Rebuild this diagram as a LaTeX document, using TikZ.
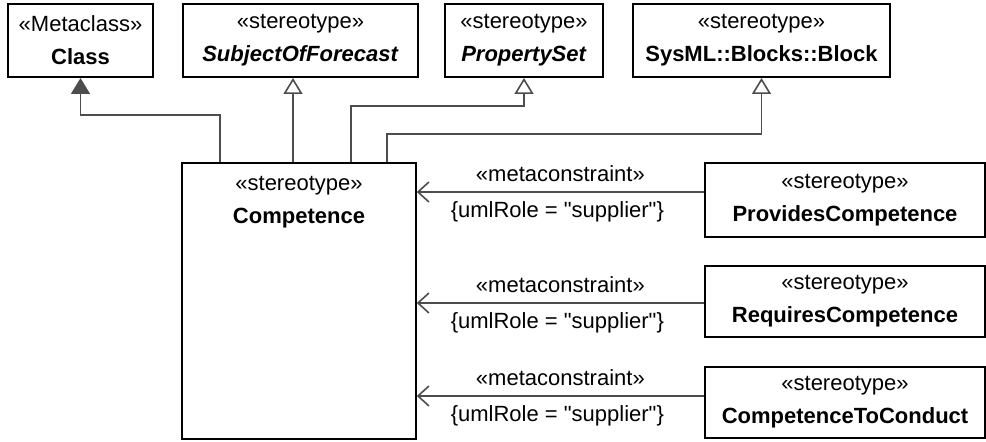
\documentclass[tikz,border=0pt]{standalone}
\usepackage{fontspec}
\setmainfont{Liberation Sans}
\usepackage{tikz}
\usetikzlibrary{arrows.meta, positioning}
\definecolor{edge}{HTML}{4D4D4D}

\begin{document}
\begin{tikzpicture}[
  x=0.5pt, y=-0.5pt,
  font=\fontsize{11}{16.5}\selectfont,
  stereo/.style={draw=black, fill=white, line width=1pt, align=center, inner sep=0pt, minimum height=36.5pt},
  gen/.style={-{Triangle[open, length=8pt, width=9.5pt]}, line width=0.8pt, draw=edge},
  genfill/.style={-{Triangle[length=8pt, width=9.5pt, fill=edge]}, line width=0.8pt, draw=edge},
  meta/.style={-{Straight Barb[length=5.5pt, width=10pt]}, line width=0.8pt, draw=edge},
]
\useasboundingbox (0,0) rectangle (986,442);

% Metaclass and parents
\node[stereo, minimum width=72.5pt] (cls) at (80.5,40.5) {«Metaclass»\\\textbf{Class}};
\node[stereo, minimum width=117.5pt] (subj) at (300.5,40.5) {«stereotype»\\\textbf{\itshape SubjectOfForecast}};
\node[stereo, minimum width=79pt] (prop) at (524,40.5) {«stereotype»\\\textbf{\itshape PropertySet}};
\node[stereo, minimum width=128.5pt] (block) at (761.5,40.5) {«stereotype»\\\textbf{SysML::Blocks::Block}};

% Competence
\node[stereo, minimum width=116.75pt, minimum height=138pt,
  label={[align=center, anchor=north, yshift=-3.5pt]north:«stereotype»\\\textbf{Competence}}] (comp) at (299,301) {};

% Relations
\node[stereo, minimum width=140pt, minimum height=37pt] (prov) at (845,200) {«stereotype»\\\textbf{ProvidesCompetence}};
\node[stereo, minimum width=140pt, minimum height=35.5pt] (req) at (845,301.5) {«stereotype»\\\textbf{RequiresCompetence}};
\node[stereo, minimum width=140pt, minimum height=35.5pt] (ctc) at (845,402.5) {«stereotype»\\\textbf{CompetenceToConduct}};

% Bends
\coordinate (bcls) at (220,115);
\coordinate (bsubj) at (293,115);
\coordinate (bprop) at (351,106);
\coordinate (bblock) at (387,134);

% Generalizations
\draw[genfill] (comp.north -| bcls) -- (bcls) -| (cls.south);
\draw[gen] (comp.north -| bsubj) -- (subj.south -| bsubj);
\draw[gen] (comp.north -| bprop) -- (bprop) -| (prop.south);
\draw[gen] (comp.north -| bblock) -- (bblock) -| (block.south);

% Metaconstraints
\foreach \r/\dy in {prov/4pt, req/-0.75pt, ctc/3.25pt} {
  \draw[meta] ([yshift=\dy]\r.west) -- ([yshift=\dy]\r.west -| comp.east)
    node[midway, above=1.5pt, text=black] {«metaconstraint»}
    node[midway, below=1pt, xshift=-1.5pt, text=black] {\{umlRole = \textquotedbl supplier\textquotedbl\}};
}

\end{tikzpicture}
\end{document}
